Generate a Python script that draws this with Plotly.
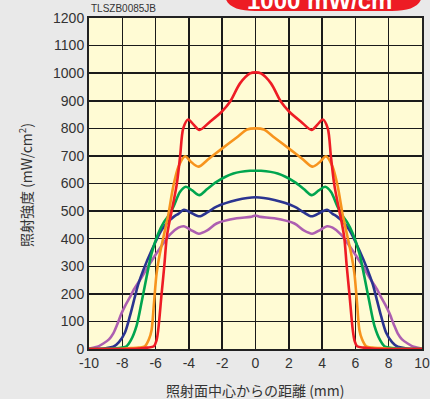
import plotly.graph_objects as go

# ---------------- data ----------------
x_red = [-10, -8, -7, -6.5, -6.1, -5.95, -5.84, -5.64, -5.48, -5.33, -5.14, -5.0, -4.73, -4.53, -4.34, -4.04,
         -3.7, -3.37, -2.73, -2.03, -1.53, -0.93, -0.33, 0,
         0.33, 0.93, 1.53, 2.03, 2.73, 3.37, 3.7,
         4.04, 4.34, 4.53, 4.73, 5.0, 5.14, 5.33, 5.48, 5.64, 5.84, 5.95, 6.1, 6.5, 7, 8, 10]
y_red = [0, 0, 2, 5, 10, 30, 70, 200, 300, 405, 470, 510, 597, 697, 800, 832,
         812, 794, 824, 860, 896, 963, 999, 1003,
         999, 963, 896, 860, 824, 794, 812,
         832, 800, 697, 597, 510, 470, 405, 300, 200, 70, 30, 10, 5, 2, 0, 0]

x_orange = [-10, -8, -7.5, -7, -6.64, -6.4, -6.24, -6.1, -5.94, -5.74, -5.44, -5.24, -4.94, -4.63, -4.23,
            -3.9, -3.43, -2.8, -2.13, -1.13, -0.5, 0,
            0.5, 1.13, 2.13, 2.8, 3.43, 3.9,
            4.23, 4.63, 4.94, 5.24, 5.44, 5.74, 5.94, 6.1, 6.24, 6.4, 6.64, 7, 7.5, 8, 10]
y_orange = [0, 1, 3, 5, 10, 35, 69, 165, 274, 347, 430, 485, 589, 661, 699,
            680, 661, 690, 721, 767, 796, 800,
            796, 767, 721, 690, 661, 680,
            699, 661, 589, 485, 430, 347, 274, 165, 69, 35, 10, 5, 3, 1, 0]

x_green = [-10, -8.5, -8, -7.74, -7.5, -7.14, -6.84, -6.54, -6.24, -5.84, -5.5, -5.2, -4.9, -4.53, -4.18,
           -3.8, -3.37, -2.9, -2.34, -1.33, -0.33, 0,
           0.33, 1.33, 2.34, 2.9, 3.37, 3.8,
           4.18, 4.53, 4.9, 5.2, 5.5, 5.84, 6.24, 6.54, 6.84, 7.14, 7.5, 7.74, 8, 8.5, 10]
y_green = [0, 2, 5, 10, 30, 85, 170, 262, 347, 419, 460, 485, 520, 570, 588,
           575, 558, 580, 606, 636, 646, 646,
           646, 636, 606, 580, 558, 575,
           588, 570, 520, 485, 460, 419, 347, 262, 170, 85, 30, 10, 5, 2, 0]

x_navy = [-10, -9, -8.54, -8.2, -7.84, -7.54, -7.24, -7.04, -6.74, -6.23, -5.64, -5.3, -4.9, -4.63, -4.3,
          -3.9, -3.37, -2.9, -2.34, -1.13, 0,
          1.13, 2.34, 2.9, 3.37, 3.9,
          4.3, 4.63, 4.9, 5.3, 5.64, 6.23, 6.74, 7.04, 7.24, 7.54, 7.84, 8.2, 8.54, 9, 10]
y_navy = [0, 3, 8, 25, 60, 120, 190, 235, 286, 359, 431, 458, 480, 490, 505,
          495, 481, 495, 516, 540, 550,
          540, 516, 495, 481, 495,
          505, 490, 480, 458, 431, 359, 286, 235, 190, 120, 60, 25, 8, 3, 0]

x_purple = [-10, -9.5, -9.14, -8.8, -8.54, -8.3, -8.04, -7.8, -7.54, -7.34, -6.94, -6.34, -5.74, -5.14, -4.63, -4.3,
            -3.9, -3.4, -2.9, -2.34, -1.13, -0.3, 0, 0.3,
            1.13, 2.34, 2.9, 3.4, 3.9,
            4.3, 4.63, 5.14, 5.74, 6.34, 6.94, 7.34, 7.54, 7.8, 8.04, 8.3, 8.54, 8.8, 9.14, 9.5, 10]
y_purple = [2, 8, 20, 35, 57, 90, 130, 160, 188, 212, 250, 310, 365, 415, 440, 445,
            432, 418, 430, 455, 474, 479, 484, 479,
            474, 455, 430, 418, 432,
            445, 440, 415, 365, 310, 250, 212, 188, 160, 130, 90, 57, 35, 20, 8, 2]

series = [
    ("purple", x_purple, y_purple, "#ad5fb1"),
    ("navy", x_navy, y_navy, "#2b3490"),
    ("green", x_green, y_green, "#00a54f"),
    ("orange", x_orange, y_orange, "#f7941d"),
    ("red", x_red, y_red, "#ee1c25"),
]

x_ticks = [-10, -8, -6, -4, -2, 0, 2, 4, 6, 8, 10]
y_ticks = [0, 100, 200, 300, 400, 500, 600, 700, 800, 900, 1000, 1100, 1200]

x_title = "照射面中心からの距離 (mm)"
y_title = "照射強度 (mW/cm<sup>2</sup>)"
code_label = "TLSZB0085JB"
badge_text = "1000 mW/cm<sup>2</sup>"

# ---------------- figure ----------------
W, H = 430, 399
L, R, T, B = 89, 8, 18, 50
PW, PH = W - L - R, H - T - B


def px(xp):
    return (xp - L) / PW


def py(yp):
    return (H - B - yp) / PH


fig = go.Figure()
for name, xs, ys, col in series:
    fig.add_trace(go.Scatter(x=xs, y=ys, mode="lines", name=name,
                             line=dict(color=col, width=2.6, shape="spline", smoothing=0.8),
                             hoverinfo="skip"))

tickfont = dict(family="Liberation Sans, Arial, sans-serif", size=14, color="#333333")
fig.update_layout(
    width=W, height=H,
    margin=dict(l=L, r=R, t=T, b=B, pad=0),
    paper_bgcolor="#e9e9e9",
    plot_bgcolor="#fffbd4",
    showlegend=False,
    xaxis=dict(range=[-10, 10], tickvals=x_ticks, ticktext=[str(v) for v in x_ticks],
               showgrid=True, gridcolor="#1a1a1a", gridwidth=1.5, zeroline=False,
               showline=True, linecolor="#222222", linewidth=2, mirror=True,
               ticks="", tickfont=tickfont, fixedrange=True, automargin=False),
    yaxis=dict(range=[0, 1200], tickvals=y_ticks, ticktext=[str(v) for v in y_ticks],
               showgrid=True, gridcolor="#1a1a1a", gridwidth=1.5, zeroline=False,
               showline=True, linecolor="#222222", linewidth=2, mirror=True,
               ticks="", tickfont=tickfont, fixedrange=True, automargin=False),
)

# red badge (cut at top edge)
x0, x1, yb = 225, 422, 11
path = (f"M {px(x0)},{py(-40)} L {px(x0)},{py(-6)} "
        f"C {px(x0)},{py(6)} {px(x0 + 12)},{py(yb)} {px(x0 + 30)},{py(yb)} "
        f"L {px(x1 - 30)},{py(yb)} "
        f"C {px(x1 - 12)},{py(yb)} {px(x1)},{py(6)} {px(x1)},{py(-6)} "
        f"L {px(x1)},{py(-40)} Z")
fig.add_shape(type="path", path=path, xref="paper", yref="paper",
              fillcolor="#ed1c24", line=dict(width=0), layer="above")

fig.add_annotation(text=badge_text, xref="paper", yref="paper",
                   x=px(324), y=py(16), xanchor="center", yanchor="bottom",
                   showarrow=False,
                   font=dict(family="Liberation Sans, Arial, sans-serif", size=24, color="white", weight="bold"))

fig.add_annotation(text=code_label, xref="paper", yref="paper",
                   x=px(89), y=py(9), xanchor="left", yanchor="middle", showarrow=False,
                   font=dict(family="Liberation Sans, Arial, sans-serif", size=10, color="#333333"))

fig.add_annotation(text=x_title, xref="paper", yref="paper",
                   x=px(255), y=py(390), xanchor="center", yanchor="middle", showarrow=False,
                   font=dict(family="Noto Sans CJK JP, sans-serif", size=14, color="#333333"))

fig.add_annotation(text=y_title, xref="paper", yref="paper",
                   x=px(25), y=py(185), xanchor="center", yanchor="middle", showarrow=False,
                   textangle=-90,
                   font=dict(family="Noto Sans CJK JP, sans-serif", size=14, color="#333333"))

fig.write_html("out.html",
               config={"displayModeBar": False, "staticPlot": True},
               post_script="document.body.style.margin='0';document.body.style.overflow='hidden';")
